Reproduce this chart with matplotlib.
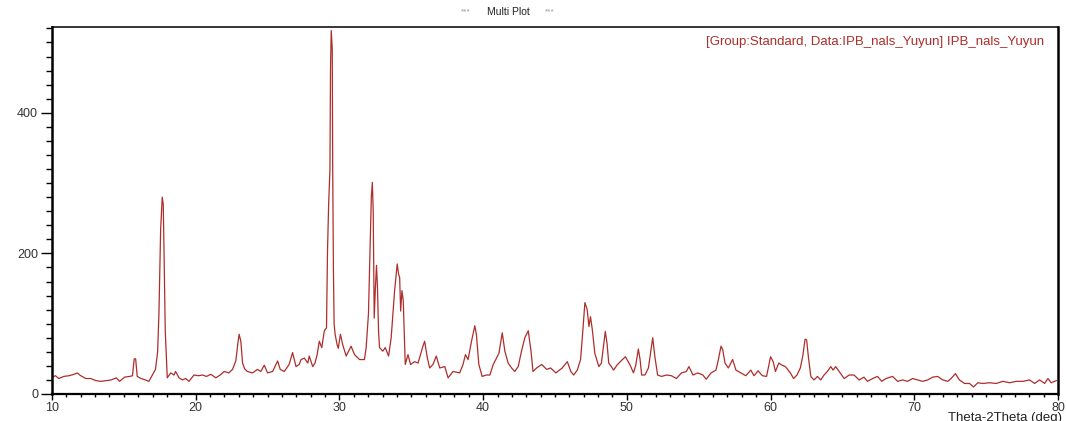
import matplotlib
matplotlib.use("Agg")
import matplotlib.pyplot as plt
from matplotlib.ticker import MultipleLocator

two_theta = [
    10.0, 10.24, 10.47, 10.82, 11.18, 11.53, 11.76, 12.0, 12.35, 12.7, 13.06, 13.41, 13.76, 14.12,
    14.47, 14.7, 15.06, 15.41, 15.6, 15.72, 15.82, 15.93, 16.2, 16.5, 16.74, 16.98, 17.2, 17.35,
    17.44, 17.56, 17.67, 17.74, 17.79, 17.88, 18.02, 18.26, 18.49, 18.6, 18.84, 19.07, 19.3, 19.53,
    19.88, 20.2, 20.47, 20.75, 21.05, 21.4, 21.7, 21.98, 22.3, 22.56, 22.79, 22.92, 23.02, 23.14,
    23.26, 23.4, 23.6, 23.95, 24.3, 24.53, 24.77, 25.0, 25.35, 25.7, 25.88, 26.16, 26.5, 26.74,
    26.98, 27.2, 27.33, 27.56, 27.8, 27.9, 28.14, 28.3, 28.45, 28.6, 28.77, 28.95, 29.1, 29.17,
    29.25, 29.34, 29.38, 29.43, 29.5, 29.53, 29.58, 29.63, 29.7, 29.84, 29.92, 30.07, 30.23, 30.47,
    30.81, 31.05, 31.4, 31.74, 31.86, 32.02, 32.12, 32.22, 32.29, 32.35, 32.42, 32.5, 32.58, 32.65,
    32.72, 32.79, 33.02, 33.19, 33.42, 33.6, 33.84, 34.02, 34.12, 34.19, 34.26, 34.35, 34.44, 34.58,
    34.77, 34.95, 35.23, 35.47, 35.81, 35.93, 36.12, 36.28, 36.51, 36.74, 36.98, 37.33, 37.56, 37.9,
    38.37, 38.6, 38.77, 38.95, 39.19, 39.42, 39.53, 39.7, 39.93, 40.23, 40.47, 40.7, 40.93, 41.1,
    41.33, 41.51, 41.74, 41.98, 42.2, 42.44, 42.67, 42.9, 43.14, 43.33, 43.47, 43.72, 44.07, 44.42,
    44.7, 45.06, 45.5, 45.86, 46.1, 46.3, 46.55, 46.78, 46.94, 47.08, 47.24, 47.36, 47.47, 47.6,
    47.77, 48.05, 48.23, 48.4, 48.5, 48.62, 48.74, 48.92, 49.08, 49.31, 49.54, 49.9, 50.23, 50.46,
    50.62, 50.8, 50.92, 51.03, 51.26, 51.5, 51.68, 51.8, 51.95, 52.14, 52.41, 52.76, 53.1, 53.45,
    53.8, 54.14, 54.32, 54.6, 54.94, 55.29, 55.52, 55.86, 56.2, 56.37, 56.55, 56.67, 56.83, 57.06,
    57.36, 57.59, 57.93, 58.28, 58.62, 58.85, 59.13, 59.43, 59.72, 60.0, 60.18, 60.34, 60.57, 60.8,
    61.03, 61.38, 61.6, 61.84, 62.07, 62.25, 62.4, 62.51, 62.63, 62.8, 63.02, 63.26, 63.49, 63.72,
    63.95, 64.19, 64.35, 64.53, 64.77, 65.12, 65.47, 65.81, 66.16, 66.5, 66.74, 67.1, 67.44, 67.74,
    68.02, 68.49, 68.84, 69.19, 69.53, 69.88, 70.23, 70.58, 70.93, 71.28, 71.63, 71.98, 72.33, 72.56,
    72.86, 73.14, 73.49, 73.84, 74.12, 74.42, 74.77, 75.23, 75.7, 76.16, 76.63, 77.09, 77.56, 78.02,
    78.37, 78.72, 79.07, 79.3, 79.53, 79.88,
]

intensity = [
    24, 26, 22, 25, 26, 28, 30, 26, 22, 22, 19, 18, 19, 20,
    23, 18, 24, 25, 26, 50, 50, 25, 22, 20, 18, 27, 35, 60,
    114, 234, 280, 270, 210, 90, 23, 30, 27, 32, 23, 20, 22, 18,
    27, 26, 27, 25, 28, 23, 27, 32, 30, 35, 47, 70, 85, 75,
    44, 36, 32, 30, 35, 32, 41, 30, 32, 47, 35, 32, 42, 59,
    39, 42, 49, 51, 44, 54, 39, 44, 56, 75, 66, 90, 94, 203,
    270, 320, 465, 517, 491, 330, 180, 100, 85, 70, 65, 85, 70, 54,
    68, 56, 49, 49, 66, 114, 200, 280, 301, 260, 108, 150, 183, 150,
    90, 66, 61, 66, 54, 80, 147, 185, 170, 166, 118, 147, 133, 42,
    56, 42, 46, 44, 68, 75, 51, 37, 42, 54, 37, 39, 23, 32,
    30, 42, 56, 49, 75, 97, 85, 42, 25, 27, 27, 42, 51, 58,
    87, 61, 44, 37, 32, 39, 61, 80, 90, 61, 32, 37, 42, 35,
    37, 30, 37, 46, 32, 27, 34, 49, 91, 130, 120, 96, 110, 91,
    58, 39, 44, 72, 89, 72, 44, 39, 34, 41, 46, 53, 41, 30,
    41, 64, 49, 27, 27, 37, 63, 80, 53, 27, 25, 27, 26, 22,
    30, 32, 39, 27, 30, 27, 21, 30, 34, 49, 68, 63, 44, 37,
    49, 34, 30, 26, 34, 26, 33, 26, 25, 53, 46, 32, 44, 41,
    39, 30, 22, 27, 37, 55, 78, 77, 53, 25, 20, 25, 20, 27,
    32, 39, 34, 39, 32, 22, 27, 27, 20, 24, 18, 22, 25, 18,
    22, 25, 18, 20, 18, 22, 20, 18, 20, 24, 25, 20, 18, 22,
    29, 20, 15, 15, 10, 16, 15, 16, 15, 18, 16, 18, 18, 20,
    15, 20, 15, 22, 16, 19,
]

x_ticks = [10, 20, 30, 40, 50, 60, 70, 80]
y_ticks = [0, 200, 400]

plt.rcParams['font.family'] = ['Liberation Sans', 'DejaVu Sans']

fig = plt.figure(figsize=(10.66, 4.21), dpi=100)
ax = fig.add_axes([52 / 1066, 1 - 394 / 421, (1058 - 52) / 1066, (394 - 27) / 421])

ax.plot(two_theta, intensity, color='#ad2e2b', linewidth=0.9)

ax.set_xlim(10, 80)
ax.set_ylim(0, 522)
ax.set_xticks(x_ticks)
ax.set_yticks(y_ticks)
ax.xaxis.set_minor_locator(MultipleLocator(1))
ax.yaxis.set_minor_locator(MultipleLocator(20))

ax.tick_params(axis='x', which='major', direction='out', length=4, width=1, pad=2,
               labelsize=9, labelcolor='#333333')
ax.tick_params(axis='x', which='minor', direction='out', length=2.5, width=1)
ax.tick_params(axis='y', which='major', direction='out', length=8, width=1, pad=2,
               labelsize=9, labelcolor='#333333')
ax.tick_params(axis='y', which='minor', direction='out', length=4, width=1)

ax.spines['left'].set_linewidth(1.8)
ax.spines['bottom'].set_linewidth(1.6)
ax.spines['top'].set_linewidth(1.1)
ax.spines['right'].set_linewidth(1.8)

ax.text(0.986, 0.975, '[Group:Standard, Data:IPB_nals_Yuyun] IPB_nals_Yuyun',
        transform=ax.transAxes, ha='right', va='top', color='#ad2e2b', fontsize=9.5)

fig.text(471 / 1066, 1 - 12 / 421, '***', ha='right', va='center', fontsize=6, color='#999999')
fig.text(508 / 1066, 1 - 12 / 421, 'Multi Plot', ha='center', va='center', fontsize=7.5, color='#222222')
fig.text(545 / 1066, 1 - 12 / 421, '***', ha='left', va='center', fontsize=6, color='#999999')

fig.text(1062 / 1066, 3 / 421, 'Theta-2Theta (deg)', ha='right', va='center', fontsize=9.5,
         color='#222222')

fig.savefig('out.png', dpi=100)
